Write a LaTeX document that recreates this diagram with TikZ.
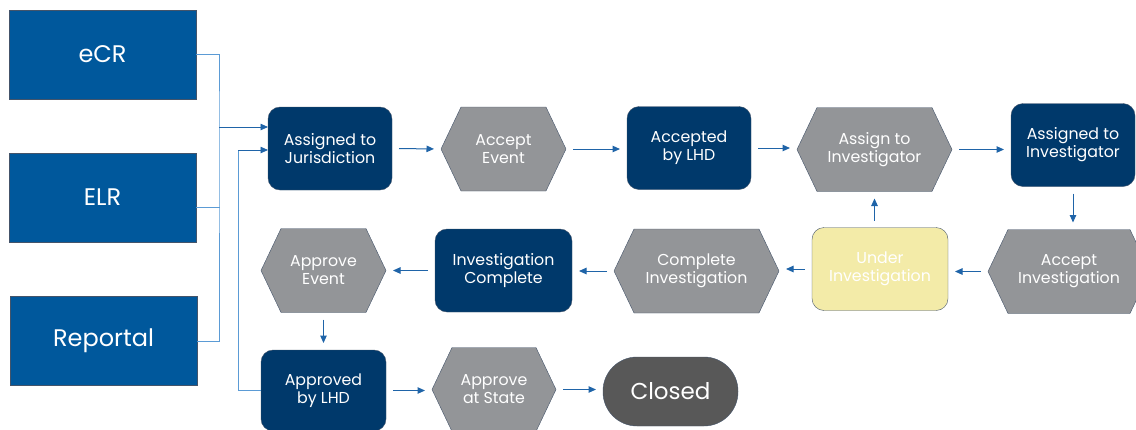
\documentclass[tikz,border=0pt]{standalone}
\usepackage{fontspec}
\setmainfont{Poppins}
\usetikzlibrary{shapes.symbols,arrows.meta,calc}

\definecolor{srcblue}{HTML}{00589C}
\definecolor{navy}{HTML}{00396B}
\definecolor{hexgrey}{HTML}{939598}
\definecolor{hexline}{HTML}{44546A}
\definecolor{lineblue}{HTML}{1F64A8}
\definecolor{buslight}{HTML}{5B9BD5}
\definecolor{paleyellow}{HTML}{F3EBA8}
\definecolor{closedgrey}{HTML}{585858}

\tikzset{
  source/.style={draw=hexline, fill=srcblue, text=white, inner sep=0pt, outer sep=0pt,
    minimum width=187pt, minimum height=89pt, font=\fontsize{24}{28}\selectfont},
  status/.style={draw=hexline, fill=navy, text=white, rounded corners=12pt, inner sep=0pt,
    outer sep=0pt, minimum width=124pt, minimum height=83pt, align=center,
    font=\fontsize{15.8}{18}\selectfont},
  action/.style={signal, signal to=east and west, signal pointer angle=129, draw=hexline,
    fill=hexgrey, text=white, inner sep=0pt, outer sep=0pt, minimum width=125pt,
    minimum height=84pt, align=center, font=\fontsize{15.8}{18}\selectfont},
  flow/.style={draw=lineblue, line width=1pt, -{Triangle[length=7.5pt,width=6.5pt]},
    shorten <=7pt, shorten >=7pt},
  bus/.style={draw=buslight, line width=0.8pt}
}

\begin{document}
\begin{tikzpicture}[x=1pt,y=-1pt]
  \useasboundingbox (0,0) rectangle (1136,429);

  % sources
  \node[source] (ecr) at (102.5,54.5) {eCR};
  \node[source] (elr) at (102.5,197.5) {ELR};
  \node[source] (rep) at (103.5,341) {Reportal};

  % top row
  \node[status] (jur) at (330,148.5) {Assigned to\\Jurisdiction};
  \node[action] (acev) at (503.5,149) {Accept\\Event};
  \node[status] (acclhd) at (689,148) {Accepted\\by LHD};
  \node[action, minimum width=155pt] (asinv) at (874.5,149.5) {Assign to\\Investigator};
  \node[status] (asdinv) at (1073,145) {Assigned to\\Investigator};

  % middle row
  \node[action, minimum width=162pt] (acinv) at (1069,271.5) {Accept\\Investigation};
  \node[status, fill=paleyellow, minimum width=136pt] (under) at (880,269) {Under\\Investigation};
  \node[action, minimum width=165pt] (compinv) at (696.5,271) {Complete\\Investigation};
  \node[status, minimum width=137pt] (invcomp) at (503.5,270.5) {Investigation\\Complete};
  \node[action] (apev) at (323.5,270.5) {Approve\\Event};

  % bottom row
  \node[status, minimum width=125pt, minimum height=81pt] (apdlhd) at (323.5,390.5) {Approved\\by LHD};
  \node[action, minimum width=124pt] (apstate) at (494,389.5) {Approve\\at State};
  \node[status, fill=closedgrey, minimum width=135pt, minimum height=69pt, rounded corners=34pt,
    font=\fontsize{23}{27}\selectfont] (closed) at (670.5,391.5) {Closed};

  % feeds into jurisdiction
  \coordinate (join) at (219,127);
  \coordinate (loop) at (238,150);
  \draw[bus] (ecr.east) -| (join) |- (rep.east);
  \draw[bus] ($(elr.east)+(0,9.5)$) -- +(24,0);
  \draw[bus, -{Triangle[length=7.5pt,width=6.5pt]}, lineblue] (join) -- (join -| jur.west);
  \draw[bus] (apdlhd.west) -| (loop);
  \draw[bus, -{Triangle[length=7.5pt,width=6.5pt]}, lineblue] (loop) -- (loop -| jur.west);

  % main flow
  \draw[flow] (jur.east) -- (acev.west);
  \draw[flow] (acev.east) -- (acev.east -| acclhd.west);
  \draw[flow] (acclhd.east) -- (acclhd.east -| asinv.west);
  \draw[flow] (asinv.east) -- (asinv.east -| asdinv.west);
  \draw[flow] (asdinv.south) -- (asdinv.south |- acinv.north);
  \draw[flow] (acinv.west) -- (acinv.west -| under.east);
  \draw[flow] (asinv.south |- under.north) -- (asinv.south);
  \draw[flow] (under.west) -- (under.west -| compinv.east);
  \draw[flow] (compinv.west) -- (compinv.west -| invcomp.east);
  \draw[flow] (invcomp.west) -- (invcomp.west -| apev.east);
  \draw[flow] (apev.south) -- (apev.south |- apdlhd.north);
  \draw[flow] (apdlhd.east) -- (apdlhd.east -| apstate.west);
  \draw[flow] (apstate.east) -- (apstate.east -| closed.west);
\end{tikzpicture}
\end{document}
